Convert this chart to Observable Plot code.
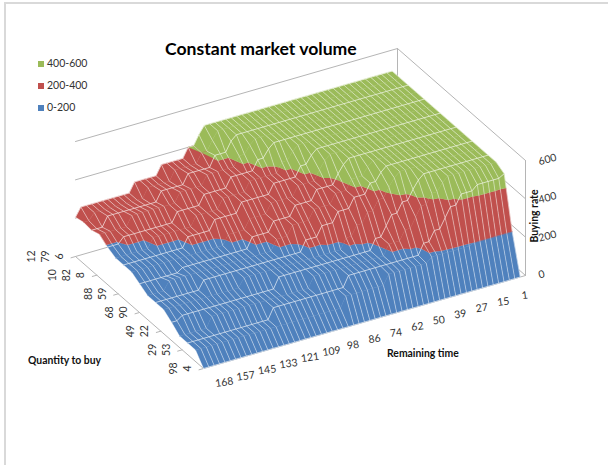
<!DOCTYPE html>
<html><head><meta charset="utf-8">
<script src="https://cdn.jsdelivr.net/npm/d3@7"></script>
<script src="https://cdn.jsdelivr.net/npm/@observablehq/plot@0.6"></script>
<style>
html,body{margin:0;padding:0;background:#fff;overflow:hidden}
#wrap{position:relative;width:608px;height:465px;font-family:Lato,sans-serif}
#frame{position:absolute;left:4px;top:2px;right:-5px;bottom:-5px;border:2px solid #d9d9d9;box-sizing:border-box}
#title{position:absolute;left:165px;top:38px;font-weight:700;font-size:17.6px;color:#000;white-space:nowrap}
.lg{position:absolute;left:38px;font-size:10.5px;color:#333;line-height:12px;white-space:nowrap}
.lg i{display:inline-block;width:6px;height:6px;margin-right:3px;vertical-align:0px}
.at{position:absolute;font-weight:700;font-size:10.4px;color:#111;white-space:nowrap}
svg{position:absolute;left:0;top:0}
</style></head><body><div id="wrap"><div id="frame"></div></div>
<script>
// ---- axis labels
const timeLabels = [168,157,145,133,121,109,98,86,74,62,50,39,27,15,1];
const qtyNear = [4,53,22,90,59,8,6];
const qtyMid  = [98,29,49,68,88,82,79];
const qtyFar  = [null,null,null,null,null,10,12];
const rateTicks = [0,200,400,600];
const bands = ["0-200","200-400","400-600"];
const bandColors = ["#4F81BD","#C0504D","#9BBB59"];
// ---- surface: per quantity row (front to back), [first column, buying rate] runs
const nCols = 60;
const row00 = [[0,0]];
const row01 = [[0,60],[28,115],[36,165],[44,190],[52,200]];
const row02 = [[0,60],[16,115],[30,170],[44,225],[46,275],[48,325],[49,375],[51,425],[54,450],[59,466]];
const row03 = [[0,60],[6,115],[25,170],[39,225],[42,275],[44,325],[45,375],[47,425],[49,465],[50,490]];
const row04 = [[0,95],[2,115],[20,170],[38,225],[40,275],[41,325],[43,375],[45,425],[46,465],[47,490]];
const row05 = [[0,125],[15,170],[34,225],[36,275],[38,325],[40,375],[42,425],[43,465],[44,490]];
const row06 = [[0,125],[9,170],[28,225],[31,275],[34,325],[37,375],[40,425],[42,465],[43,490]];
const row07 = [[0,125],[4,170],[24,225],[27,275],[31,325],[35,375],[38,425],[41,465],[42,490]];
const row08 = [[0,150],[8,170],[21,225],[25,275],[29,325],[33,375],[37,425],[38,465],[39,490]];
const row09 = [[0,175],[18,225],[22,275],[26,325],[31,375],[35,425],[36,465],[37,490]];
const row10 = [[0,175],[12,225],[17,275],[22,325],[28,375],[33,425],[35,465],[36,490]];
const row11 = [[0,175],[7,225],[15,275],[20,325],[25,375],[31,425],[33,465],[34,490]];
const row12 = [[0,195],[3,225],[13,275],[18,325],[23,375],[28,425],[30,465],[31,490]];
const row13 = [[0,225],[6,275],[15,325],[20,375],[26,425],[28,465],[29,490]];
const row14 = [[0,210],[3,260],[13,310],[18,360],[23,415],[26,465],[27,490]];
const row15 = [[0,215],[2,250],[12,300],[17,350],[22,400],[24,450],[25,490]];
const row16 = [[0,205],[1,250],[11,300],[16,350],[21,400],[23,450],[24,490]];
const rows = [row00,row01,row02,row03,row04,row05,row06,row07,row08,row09,row10,row11,row12,row13,row14,row15,row16];

// ---- oblique 3-D view of the chart box
const nRows = rows.length-1;
const px = (u,v)=>203+322*u-128*v;
const py = (u,v,z)=>368-93*u-112*v-z*115/600;
const P = (u,v,z)=>({x:px(u,v),y:py(u,v,z)});
const heightAt = (run,c)=>{let h=run[0][1];for(const [s,z] of run) if(c>=s) h=z;return h;};
const grid = rows.map(run=>d3.range(nCols).map(c=>heightAt(run,c)));

function clip(poly,lo,hi){
  const cut=(pts,keep,val)=>{const out=[];pts.forEach((a,i)=>{const b=pts[(i+1)%pts.length];
    const ka=keep(a.z),kb=keep(b.z);
    if(ka) out.push(a);
    if(ka!==kb){const t=(val-a.z)/(b.z-a.z);out.push({u:a.u+t*(b.u-a.u),v:a.v+t*(b.v-a.v),z:val});}
  });return out;};
  let p=cut(poly,z=>z>=lo,lo); if(p.length) p=cut(p,z=>z<=hi,hi); return p;
}
const polys=[];let pid=0;
for(let r=nRows-1;r>=0;r--) for(let c=nCols-2;c>=0;c--){
  const U=i=>i/nCols,V=j=>j/nRows;
  const q=[{u:U(c),v:V(r),z:grid[r][c]},{u:U(c+1),v:V(r),z:grid[r][c+1]},{u:U(c+1),v:V(r+1),z:grid[r+1][c+1]},{u:U(c),v:V(r+1),z:grid[r+1][c]}];
  bands.forEach((b,i)=>{const p=clip(q,i*200,(i+1)*200);
    if(p.length>2){pid++;p.forEach(a=>polys.push({...P(a.u,a.v,a.z),id:pid,band:b}));}
  });
}
const rowLines=grid.flatMap((h,r)=>r%2===0?h.map((z,c)=>({...P(c/nCols,r/nRows,z),id:r})):[]);
const colLines=d3.range(nCols).flatMap(c=>grid.map((h,r)=>({...P(c/nCols,r/nRows,h[c]),id:c})));

const wall=[];let w=0;
for(const z of [200,400,600]){w++;[[0,1],[1,1],[1,0]].forEach(([u,v])=>wall.push({...P(u,v,z),id:w}));}
w++;[[1,0,0],[1,0,600]].forEach(([u,v,z])=>wall.push({...P(u,v,z),id:w}));
w++;[[1,1,600],[1,1,0]].forEach(([u,v,z])=>wall.push({...P(u,v,z),id:w}));
w++;[[0,1],[0,0],[1,0],[1,1],[0,1]].forEach(([u,v])=>wall.push({...P(u,v,0),id:w}));
qtyNear.forEach((_,i)=>{w++;[[0,i/6],[-0.014,i/6]].forEach(([u,v])=>wall.push({...P(u,v,0),id:w}));});

const qtyText=[];
[[qtyNear,-16],[qtyMid,-30],[qtyFar,-44]].forEach(([arr,dx])=>arr.forEach((t,i)=>{if(t!==null)qtyText.push({...P(0,i/6,0),t:String(t),dx});}));
const timeText=timeLabels.map((t,i)=>({...P((i+.5)/timeLabels.length,0,0),t:String(t)}));
const rateText=rateTicks.map(t=>({...P(1,0,t),t:String(t)}));
const lab={fontSize:10.5,fill:"#333",fontFamily:"Lato,sans-serif"};

const chart=Plot.plot({width:608,height:465,margin:0,
  x:{domain:[0,608],axis:null},y:{domain:[465,0],axis:null},
  color:{domain:bands,range:bandColors},
  style:{background:"transparent"},
  marks:[
    Plot.line(wall,{x:"x",y:"y",z:"id",stroke:"#b5b5b5",strokeWidth:1}),
    Plot.line(polys,{x:"x",y:"y",z:"id",fill:"band",stroke:"band",strokeWidth:.4}),
    Plot.line(colLines,{x:"x",y:"y",z:"id",stroke:"#fff",strokeOpacity:.55,strokeWidth:.8}),
    Plot.line(rowLines,{x:"x",y:"y",z:"id",stroke:"#fff",strokeOpacity:.65,strokeWidth:.9}),
    Plot.text(qtyText.filter(d=>d.dx===-16),{x:"x",y:"y",text:"t",dx:-16,rotate:-90,...lab}),
    Plot.text(qtyText.filter(d=>d.dx===-30),{x:"x",y:"y",text:"t",dx:-30,rotate:-90,...lab}),
    Plot.text(qtyText.filter(d=>d.dx===-44),{x:"x",y:"y",text:"t",dx:-44,rotate:-90,...lab}),
    Plot.text(timeText,{x:"x",y:"y",text:"t",dx:10,dy:17,rotate:-8,...lab}),
    Plot.text(rateText.filter(d=>d.t!=="0"),{x:"x",y:"y",text:"t",dx:22,dy:-1,rotate:-15,...lab}),
    Plot.text(rateText.filter(d=>d.t==="0"),{x:"x",y:"y",text:"t",dx:16,dy:-1,rotate:-15,...lab})
  ]});
const wrap=document.getElementById("wrap");
wrap.appendChild(chart);
const add=(cls,txt,css)=>{const d=document.createElement("div");d.className=cls;d.textContent=txt;d.style.cssText=css;wrap.appendChild(d);return d;};
const t=add("", "Constant market volume","");t.id="title";
[2,1,0].forEach((i,k)=>{const d=document.createElement("div");d.className="lg";d.style.top=(57+22*k)+"px";
  const m=document.createElement("i");m.style.background=bandColors[i];d.appendChild(m);d.appendChild(document.createTextNode(bands[i]));wrap.appendChild(d);});
add("at","Quantity to buy","left:28px;top:354px");
add("at","Remaining time","left:387px;top:347px");
add("at","Buying rate","left:534px;top:216px;transform:translate(-50%,-50%) rotate(-90deg)");
</script></body></html>
